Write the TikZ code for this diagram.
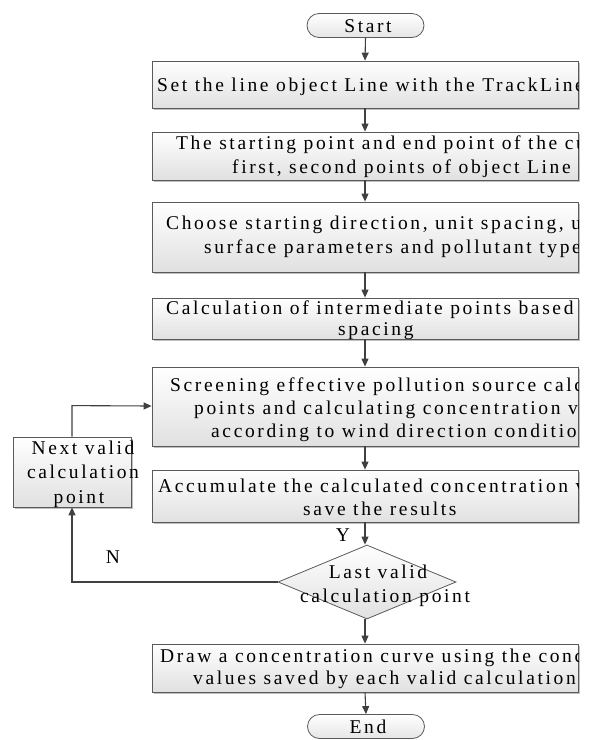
\documentclass[tikz,border=0pt]{standalone}
\usepackage{fontspec}
\setmainfont[LetterSpace=13.5]{Liberation Serif}
\usetikzlibrary{arrows.meta,shadows,shapes.geometric}
\definecolor{edgecol}{HTML}{5A5A5A}
\definecolor{arrcol}{HTML}{404040}
\begin{document}
\begin{tikzpicture}[x=1pt,y=-1pt,
  font=\fontsize{19.5pt}{24pt}\selectfont,
  boxshape/.style={draw=edgecol, line width=0.8pt, rectangle, inner sep=0pt,
    top color=white, bottom color=black!12,
    drop shadow={shadow xshift=2pt, shadow yshift=-2pt, fill=black!25, opacity=1}},
  mainbox/.style={boxshape, minimum width=426pt},
  termshape/.style={draw=edgecol, line width=0.8pt, rectangle, inner sep=0pt,
    minimum width=117pt, minimum height=24pt, rounded corners=12pt,
    top color=white, bottom color=black!10},
  decshape/.style={draw=edgecol, line width=0.8pt, diamond, inner sep=0pt, aspect=2.4,
    minimum width=178pt, minimum height=74pt, top color=white, bottom color=black!12},
  txt/.style={inner sep=0pt, anchor=base west},
  ctxt/.style={inner sep=0pt, anchor=base},
  flow/.style={draw=arrcol, line width=1.1pt, -{Triangle[length=8pt,width=7pt]}},
  plainline/.style={draw=arrcol, line width=1.1pt}
]
\useasboundingbox (0,0) rectangle (590,740);

% shapes
\node[termshape] (start) at (365.5,25.5) {};
\node[mainbox, minimum height=47pt] (b1) at (365,84.5) {};
\node[mainbox, minimum height=48pt] (b2) at (365,156) {};
\node[mainbox, minimum height=70pt] (b3) at (365,237) {};
\node[mainbox, minimum height=41pt] (b4) at (365,318.5) {};
\node[mainbox, minimum height=79pt] (b5) at (365,406.5) {};
\node[mainbox, minimum height=52pt] (b6) at (365,496) {};
\node[decshape] (dec) at (367,582) {};
\node[mainbox, minimum height=48pt] (b7) at (365,668) {};
\node[termshape] (end) at (366,726.5) {};
\node[boxshape, minimum width=118pt, minimum height=70pt] (next) at (72,472) {};

% texts
\node[ctxt] (tstart) at (368,32) {Start};
\node[ctxt] (tend) at (368,733) {End};

\begin{scope}
\clip (b1.south west) rectangle (b1.north east);
\node[txt] (t1) at (157,91) {Set the line object Line with the TrackLine};
\end{scope}
\begin{scope}
\clip (b2.south west) rectangle (b2.north east);
\node[txt] (t2a) at (176,149) {The starting point and end point of the curve};
\node[txt] (t2b) at (232,173) {first, second points of object Line};
\end{scope}
\begin{scope}
\clip (b3.south west) rectangle (b3.north east);
\node[txt] (t3a) at (166,229) {Choose starting direction, unit spacing, unit};
\node[txt] (t3b) at (204,253) {surface parameters and pollutant type};
\end{scope}
\begin{scope}
\clip (b4.south west) rectangle ([yshift=-3pt]b4.north east);
\node[txt] (t4a) at (166,314) {Calculation of intermediate points based on};
\node[txt] (t4b) at (338,335) {spacing};
\end{scope}
\begin{scope}
\clip (b5.south west) rectangle (b5.north east);
\node[txt] (t5a) at (170,391) {Screening effective pollution source calculation};
\node[txt] (t5b) at (194,414) {points and calculating concentration values};
\node[txt] (t5c) at (211,437) {according to wind direction conditions};
\end{scope}
\begin{scope}
\clip (b6.south west) rectangle (b6.north east);
\node[txt] (t6a) at (158,492) {Accumulate the calculated concentration values and};
\node[txt] (t6b) at (303,515) {save the results};
\end{scope}
\begin{scope}
\clip (b7.south west) rectangle (b7.north east);
\node[txt] (t7a) at (160,662) {Draw a concentration curve using the concentration};
\node[txt] (t7b) at (193,684) {values saved by each valid calculation point};
\end{scope}
\node[ctxt] (td1) at (378,578) {Last valid};
\node[ctxt] (td2) at (385,602) {calculation point};
\node[ctxt] (tn1) at (83,454) {Next valid};
\node[ctxt] (tn2) at (83,478) {calculation};
\node[ctxt] (tn3) at (79,503) {point};
\node[inner sep=0pt] (ly) at (343,535) {Y};
\node[inner sep=0pt] (ln) at (113,557) {N};

% connectors
\draw[flow] (start.south) -- (b1.north);
\draw[flow] (b1.south) -- (b2.north);
\draw[flow] (b2.south) -- (b3.north);
\draw[flow] (b3.south) -- (b4.north);
\draw[flow] (b4.south) -- (b5.north);
\draw[flow] (b5.south) -- (b6.north);
\draw[flow] (b6.south) -- (b6.south |- dec.north);
\draw[flow] (dec.south -| b7.north) -- (b7.north);
\draw[flow] (b7.south) -- (end.north);
\draw[flow] (dec.west) -- (dec.west -| next.south) -- (next.south);
\draw[flow] (next.north) -- ++(0,-31) -- (b5.west |- 0,406);
\end{tikzpicture}
\end{document}
